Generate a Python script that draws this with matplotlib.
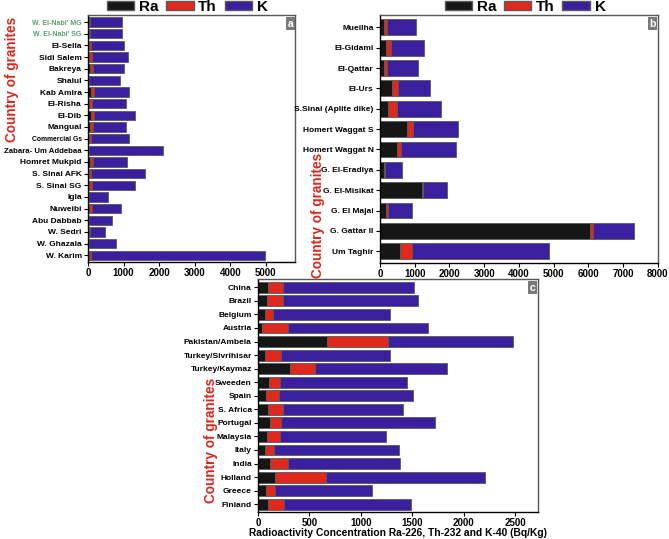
import numpy as np
import matplotlib
matplotlib.use("Agg")
import matplotlib.pyplot as plt
from matplotlib.patches import Patch

plt.rcParams['font.family'] = ['Liberation Sans', 'DejaVu Sans']
plt.rcParams['font.weight'] = 'bold'

# Panel a - Egyptian granites (top to bottom)
names_a = ["W. El-Nabi' MG", "W. El-Nabi' SG", "El-Sella", "Sidi Salem", "Bakreya", "Shalul",
           "Kab Amira", "El-Risha", "El-Dib", "Mangual", "Commercial Gs", "Zabara- Um Addebaa",
           "Homret Mukpid", "S. Sinai AFK", "S. Sinai SG", "Igla", "Nuweibi", "Abu Dabbab",
           "W. Sedri", "W. Ghazala", "W. Karim"]
ra_a = [20, 20, 30, 40, 65, 20, 80, 40, 75, 70, 40, 10, 50, 30, 40, 10, 40, 20, 20, 10, 30]
th_a = [40, 40, 50, 80, 70, 20, 80, 60, 90, 80, 50, 10, 80, 50, 70, 10, 70, 20, 30, 20, 60]
k_a = [903, 903, 939, 992, 874, 857, 990, 975, 1153, 925, 1069, 2083, 954, 1527, 1208, 531, 825, 623, 427, 764, 4891]

# Panel b
names_b = ["Mueilha", "El-Gidami", "El-Qattar", "El-Urs", "S.Sinai (Aplite dike)", "Homert Waggat S",
           "Homert Waggat N", "G. El-Eradiya", "G. El-Misikat", "G. El Majai", "G. Gattar II", "Um Taghir"]
ra_b = [115, 172, 115, 354, 220, 785, 489, 115, 1197, 172, 6034, 575]
th_b = [95, 134, 75, 173, 278, 173, 114, 38, 48, 58, 96, 335]
k_b = [824, 958, 892, 910, 1264, 1293, 1581, 470, 690, 680, 1169, 3956]

# Panel c - worldwide granites
names_c = ["China", "Brazil", "Belgium", "Austria", "Pakistan/Ambela", "Turkey/Sivrihisar",
           "Turkey/Kaymaz", "Sweeden", "Spain", "S. Africa", "Portugal", "Malaysia", "Italy",
           "India", "Holland", "Greece", "Finland"]
ra_c = [97, 84, 68, 42, 666, 68, 312, 110, 78, 94, 117, 88, 68, 120, 166, 78, 94]
th_c = [150, 163, 78, 253, 597, 153, 246, 108, 123, 149, 104, 130, 85, 172, 490, 91, 162]
k_c = [1266, 1311, 1136, 1354, 1214, 1065, 1273, 1233, 1302, 1163, 1503, 1029, 1217, 1091, 1552, 935, 1234]

C_RA = '#161616'
C_TH = '#e0281c'
C_K = '#3a1f9e'
EDGE = '#5a5a5a'
RED_LBL = '#d9281e'


def stacked(ax, names, ra, th, k, xmax, ticks, tag, h=0.8):
    y = np.arange(len(names))
    ra = np.array(ra); th = np.array(th); k = np.array(k)
    ax.barh(y, ra, height=h, color=C_RA, edgecolor=EDGE, linewidth=0.6)
    ax.barh(y, th, left=ra, height=h, color=C_TH, edgecolor=EDGE, linewidth=0.6)
    ax.barh(y, k, left=ra + th, height=h, color=C_K, edgecolor=EDGE, linewidth=0.6)
    ax.set_yticks(y)
    ax.set_yticklabels(names, fontsize=6.0, fontweight='bold')
    ax.set_ylim(len(names) - 0.42, -0.6)
    ax.set_xlim(0, xmax)
    ax.set_xticks(ticks)
    ax.set_xticklabels([str(t) for t in ticks], fontsize=7, fontweight='bold')
    ax.tick_params(axis='both', length=3, width=0.8, pad=1.5)
    for s in ['left', 'bottom']:
        ax.spines[s].set_color('black')
        ax.spines[s].set_linewidth(1.0)
    for s in ['top', 'right']:
        ax.spines[s].set_color('#555555')
        ax.spines[s].set_linewidth(1.0)
    ax.text(0.992, 0.985, tag, transform=ax.transAxes, ha='right', va='top',
            fontsize=7.5, color='white', fontweight='bold',
            bbox=dict(boxstyle='square,pad=0.15', fc='#7a7a7a', ec='none'))


fig = plt.figure(figsize=(6.69, 5.39), dpi=100)

ax_a = fig.add_axes([0.1315, 0.514, 0.309, 0.458])
stacked(ax_a, names_a, ra_a, th_a, k_a, 5810, [0, 1000, 2000, 3000, 4000, 5000], 'a')
for i, lbl in enumerate(ax_a.get_yticklabels()):
    if i < 2:
        lbl.set_color('#5a9e6e')
        lbl.set_fontsize(5.0)
    if names_a[i] == "Commercial Gs":
        lbl.set_fontsize(4.9)
    if names_a[i] == "Zabara- Um Addebaa":
        lbl.set_fontsize(5.6)

ax_b = fig.add_axes([0.568, 0.512, 0.4155, 0.46])
stacked(ax_b, names_b, ra_b, th_b, k_b, 8000, list(range(0, 8001, 1000)), 'b', h=0.78)

ax_c = fig.add_axes([0.3857, 0.05, 0.4185, 0.432])
stacked(ax_c, names_c, ra_c, th_c, k_c, 2720, [0, 500, 1000, 1500, 2000, 2500], 'c')
ax_c.set_xlabel('Radioactivity Concentration Ra-226, Th-232 and K-40 (Bq/Kg)',
                fontsize=7.4, fontweight='bold', labelpad=0)

# y labels
for (x, y) in [(0.018, 0.852), (0.476, 0.601), (0.316, 0.182)]:
    fig.text(x, y, 'Country of granites', rotation=90, ha='center', va='center',
             color=RED_LBL, fontsize=9.8, fontweight='bold')

# legends above the top panels
handles = [Patch(facecolor=C_RA, edgecolor=EDGE, label='Ra'),
           Patch(facecolor=C_TH, edgecolor=EDGE, label='Th'),
           Patch(facecolor=C_K, edgecolor=EDGE, label='K')]
for cx in [0.28, 0.785]:
    fig.legend(handles=handles, loc='center', bbox_to_anchor=(cx, 0.987), ncol=3,
               frameon=False, prop={'weight': 'bold', 'size': 11},
               handlelength=1.8, handleheight=0.6, handletextpad=0.3,
               columnspacing=0.5, borderpad=0, borderaxespad=0)

fig.savefig('out.png', dpi=100)
